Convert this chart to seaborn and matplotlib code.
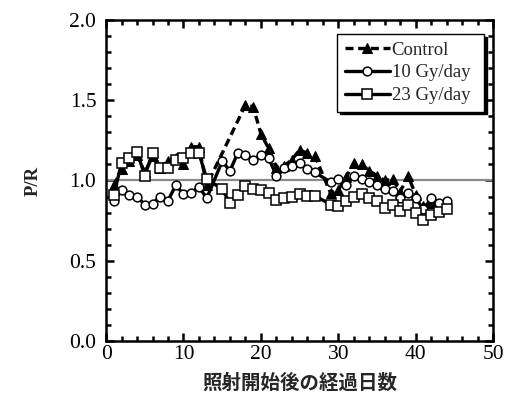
import matplotlib
matplotlib.use("Agg")
import matplotlib.pyplot as plt
import seaborn as sns
import pandas as pd

# Days after start of irradiation and P/R ratio for each treatment
control_days = [1, 2, 3, 4, 5, 6, 7, 8, 9, 10, 11, 12, 13,
                18, 19, 20, 21, 22, 23, 24, 25, 26, 27,
                29, 30, 31, 32, 33, 34, 35, 36, 37, 38, 39, 40, 41, 42, 43]
control_pr = [0.97, 1.07, 1.12, 1.16, 1.05, 1.15, 1.08, 1.12, 1.14, 1.10, 1.21, 1.21, 0.97,
              1.47, 1.46, 1.29, 1.20, 1.08, 1.09, 1.13, 1.19, 1.17, 1.15,
              0.92, 0.94, 1.02, 1.11, 1.10, 1.06, 1.03, 1.00, 1.01, 0.93, 1.03, 0.91, 0.84, 0.86, 0.85]

gy10_days = [1, 2, 3, 4, 5, 6, 7, 8, 9, 10, 11, 12, 13,
             15, 16, 17, 18, 19, 20, 21, 22, 23, 24, 25, 26, 27,
             29, 30, 31, 32, 33, 34, 35, 36, 37, 38, 39, 40, 41, 42, 43, 44]
gy10_pr = [0.87, 0.94, 0.91, 0.90, 0.85, 0.855, 0.90, 0.875, 0.97, 0.915, 0.925, 0.96, 0.89,
           1.12, 1.06, 1.17, 1.16, 1.13, 1.16, 1.14, 1.03, 1.08, 1.09, 1.11, 1.07, 1.05,
           0.99, 1.01, 0.97, 1.03, 1.01, 0.99, 0.97, 0.95, 0.935, 0.89, 0.92, 0.89, 0.82, 0.89, 0.86, 0.875]

gy23_days = [1, 2, 3, 4, 5, 6, 7, 8, 9, 10, 11, 12, 13,
             15, 16, 17, 18, 19, 20, 21, 22, 23, 24, 25, 26, 27,
             29, 30, 31, 32, 33, 34, 35, 36, 37, 38, 39, 40, 41, 42, 43, 44]
gy23_pr = [0.91, 1.11, 1.14, 1.18, 1.03, 1.17, 1.08, 1.08, 1.13, 1.14, 1.17, 1.17, 1.01,
           0.945, 0.86, 0.91, 0.965, 0.95, 0.94, 0.92, 0.88, 0.89, 0.895, 0.915, 0.905, 0.905,
           0.85, 0.84, 0.87, 0.895, 0.916, 0.89, 0.874, 0.827, 0.847, 0.81, 0.847, 0.80, 0.754, 0.785, 0.806, 0.82]

series_names = ["Control", "10 Gy/day", "23 Gy/day"]
x_label = "照射開始後の経過日数"
y_label = "P/R"

sns.set_theme(style="ticks")
plt.rcParams["font.family"] = ["Liberation Serif", "DejaVu Serif"]
plt.rcParams["axes.linewidth"] = 1.8

fig = plt.figure(figsize=(5.10, 3.98), dpi=100)
ax = fig.add_axes([0.208, 0.143, 0.759, 0.807])

# reference line at P/R = 1
ax.axhline(1.0, color="#8a8a8a", lw=1.6, zorder=1)

df_c = pd.DataFrame({"day": control_days, "pr": control_pr})
df_10 = pd.DataFrame({"day": gy10_days, "pr": gy10_pr})
df_23 = pd.DataFrame({"day": gy23_days, "pr": gy23_pr})

DASH = (2.4, 1.4)
sns.lineplot(data=df_c, x="day", y="pr", ax=ax, color="black", lw=2.4,
             marker="^", markersize=7.5, markerfacecolor="black", markeredgecolor="black",
             dashes=False, label=series_names[0], zorder=3)
ax.lines[-1].set_dashes(DASH)
sns.lineplot(data=df_10, x="day", y="pr", ax=ax, color="black", lw=2.4,
             marker="o", markersize=6.3, markerfacecolor="white", markeredgecolor="black",
             markeredgewidth=1.1, label=series_names[1], zorder=4)
sns.lineplot(data=df_23, x="day", y="pr", ax=ax, color="black", lw=2.4,
             marker="s", markersize=7.3, markerfacecolor="white", markeredgecolor="black",
             markeredgewidth=1.1, label=series_names[2], zorder=5)

ax.set_xlim(0, 50)
ax.set_ylim(0.0, 2.0)
ax.set_xticks([0, 10, 20, 30, 40, 50])
ax.set_xticks(range(0, 51, 2), minor=True)
ax.set_yticks([0.0, 0.5, 1.0, 1.5, 2.0])
ax.set_yticks([i / 10 for i in range(0, 21)], minor=True)
ax.set_yticklabels(["0.0", "0.5", "1.0", "1.5", "2.0"])
ax.tick_params(which="both", direction="in", top=True, right=True, colors="black",
               labelsize=15.5, width=1.8)
ax.tick_params(which="major", length=6)
ax.tick_params(axis="y", which="major", pad=7)
ax.tick_params(axis="x", which="major", pad=3)
ax.tick_params(which="minor", length=3.5)
for s in ax.spines.values():
    s.set_color("black")

ax.set_xlabel(x_label, family=["Noto Sans CJK JP"], fontweight="bold", fontsize=14, labelpad=7)
ax.set_ylabel(y_label, fontweight="bold", fontsize=13.5, labelpad=20)

leg = ax.legend(loc="upper left", bbox_to_anchor=(0.597, 0.0, 0.380, 0.956), mode="expand",
                borderaxespad=0, frameon=True, fancybox=False,
                shadow={"color": "black", "alpha": 1.0},
                edgecolor="black", fontsize=13.5, handlelength=2.4, handletextpad=0.1,
                labelspacing=0.3, borderpad=0.4)
leg.get_frame().set_linewidth(1.0)
leg.get_lines()[0].set_dashes(DASH)

fig.savefig("out.png", dpi=100, facecolor="white")
